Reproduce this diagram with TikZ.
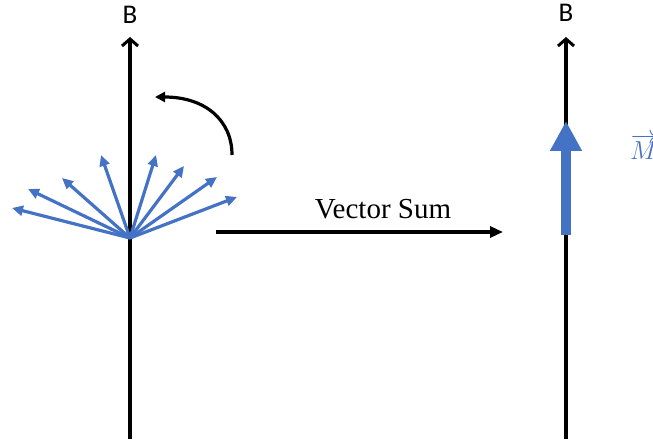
\RequirePackage{fix-cm}
\documentclass[tikz,border=0pt]{standalone}
\usepackage{fontspec}
\setmainfont{Liberation Serif}
\newfontfamily\labelfont{Carlito}
\usetikzlibrary{arrows.meta}
\definecolor{spinblue}{RGB}{68,114,196}
\begin{document}
\begin{tikzpicture}[x=1pt,y=1pt,
  axisline/.style={line width=3.2pt,-{Straight Barb[length=7pt,width=16pt,line width=3pt]}},
  fan/.style={spinblue,line width=3.2pt,-{Triangle[length=11pt,width=10pt]}},
  blab/.style={font=\labelfont\fontsize{27}{32}\selectfont}]
 \useasboundingbox (0,0) rectangle (653,439);
 % left: precessing spins
 \coordinate (lb) at (130,0); \coordinate (lt) at (130,402);
 \draw[axisline] (lb)--(lt);
 \node[blab] (B1) at (130,424) {B};
 \coordinate (O) at (130,201);
 \foreach \tx/\ty [count=\i] in {12/231,28/250,62/261,101/284,156/284,184/273,217/262,237/242}{
  \coordinate (tip\i) at (\tx,\ty);
  \draw[fan] (O)--(tip\i);
 }
 \coordinate (rs) at (232,284); \coordinate (re) at (155,342);
 \draw[line width=3.2pt,-{Triangle[length=10pt,width=10pt]}] (rs) .. controls (232,319) and (205,342) .. (re);
 % vector sum
 \coordinate (hs) at (216,207); \coordinate (he) at (503,207);
 \draw[line width=3.2pt,-{Triangle[length=13pt,width=11pt]}] (hs)--(he);
 \node[anchor=base,font=\fontsize{29}{34}\selectfont] (vs) at (383,220) {Vector Sum};
 % right: net magnetization
 \coordinate (rb) at (566,0); \coordinate (rt) at (566,402);
 \draw[axisline] (rb)--(rt);
 \node[blab] (B2) at (566,426) {B};
 \coordinate (mb) at (566,204); \coordinate (mt) at (566,318);
 \draw[spinblue,line width=10pt,-{Triangle[length=30pt,width=30pt]}] (mb)--(mt);
 \node[anchor=base west,spinblue,font=\fontsize{26}{30}\selectfont,inner sep=0pt] (M) at (630,279) {$\overrightarrow{M}$};
\end{tikzpicture}
\end{document}
